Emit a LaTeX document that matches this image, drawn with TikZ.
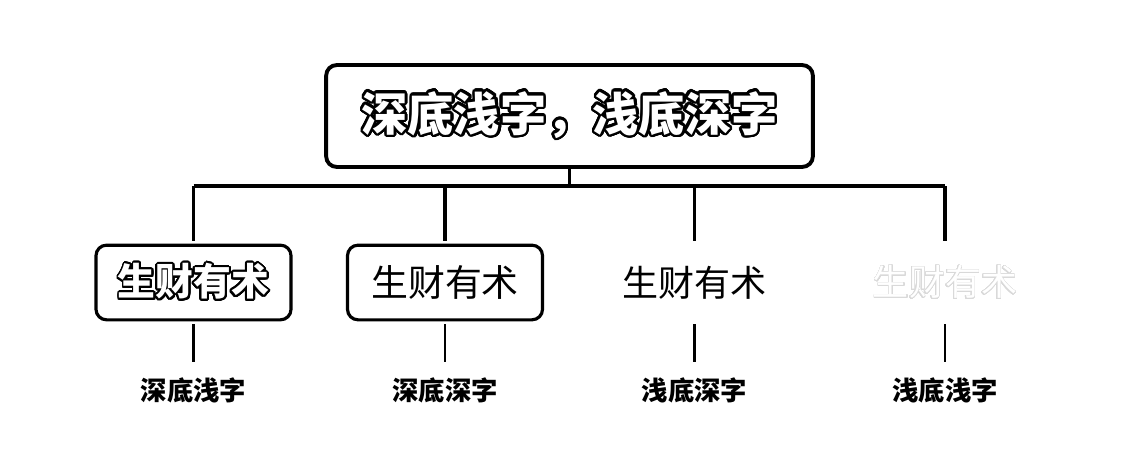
\documentclass[tikz,border=0pt]{standalone}
\usepackage{fontspec}
\setmainfont{Noto Sans CJK SC}
\usepackage{contour}
\contournumber{32}

\tikzset{
  titlebox/.style={draw,line width=2.2pt,rounded corners=6pt,minimum width=277pt,minimum height=58pt,inner sep=0pt},
  itembox/.style={line width=1.8pt,rounded corners=6pt,minimum width=111pt,minimum height=42.5pt,inner sep=0pt},
  tag/.style={font=\bfseries\fontsize{15}{15}\selectfont,inner sep=0pt},
  bus/.style={line width=2.2pt},
  stem/.style={line width=1.6pt}
}

\begin{document}
\begin{tikzpicture}[x=0.02cm,y=-0.02cm]

          \fill[white] (0,0) rectangle (1141,453);
          \useasboundingbox (0,0) rectangle (1141,453);

          \node[titlebox,font=\bfseries\fontsize{26.3}{26.3}\selectfont] (title) at (569.5,116)
            {\contourlength{1.4pt}\color{white}\contour{black}{深底浅字，浅底深字}};

          \node[itembox,draw,font=\bfseries\fontsize{21.5}{21.5}\selectfont] (b1) at (193.5,282.5)
            {\contourlength{1.1pt}\color{white}\contour{black}{生财有术}};
          \node[itembox,draw,font=\fontsize{21}{21}\selectfont] (b2) at (445,282.5) {生财有术};
          \node[itembox,font=\fontsize{20.5}{20.5}\selectfont] (b3) at (694.5,282.5) {生财有术};
          \node[itembox,font=\fontsize{20.5}{20.5}\selectfont] (b4) at (945,282.5)
            {\contourlength{0.3pt}\color{white}\contour{black!15}{生财有术}};

          \node[tag] (l1) at (193.5,390) {深底浅字};
          \node[tag] (l2) at (445,390) {深底深字};
          \node[tag] (l3) at (694.5,390) {浅底深字};
          \node[tag] (l4) at (945,390) {浅底浅字};

          % the bus under the title
          \coordinate (j) at (569.5,186);
          \coordinate (t1) at (193.5,186);
          \coordinate (t2) at (445,186);
          \coordinate (t3) at (694.5,186);
          \coordinate (t4) at (945,186);

          \draw[bus] (title.south) -- (j);
          \draw[bus] (t1) -- (t4);

          \foreach \i in {1,...,4}{
            \draw[bus,shorten >=1.7pt] (t\i) -- (b\i.north);
            \draw[stem,shorten <=1.7pt,shorten >=8.5pt] (b\i.south) -- (l\i.north);
          }

        \end{tikzpicture}
\end{document}
